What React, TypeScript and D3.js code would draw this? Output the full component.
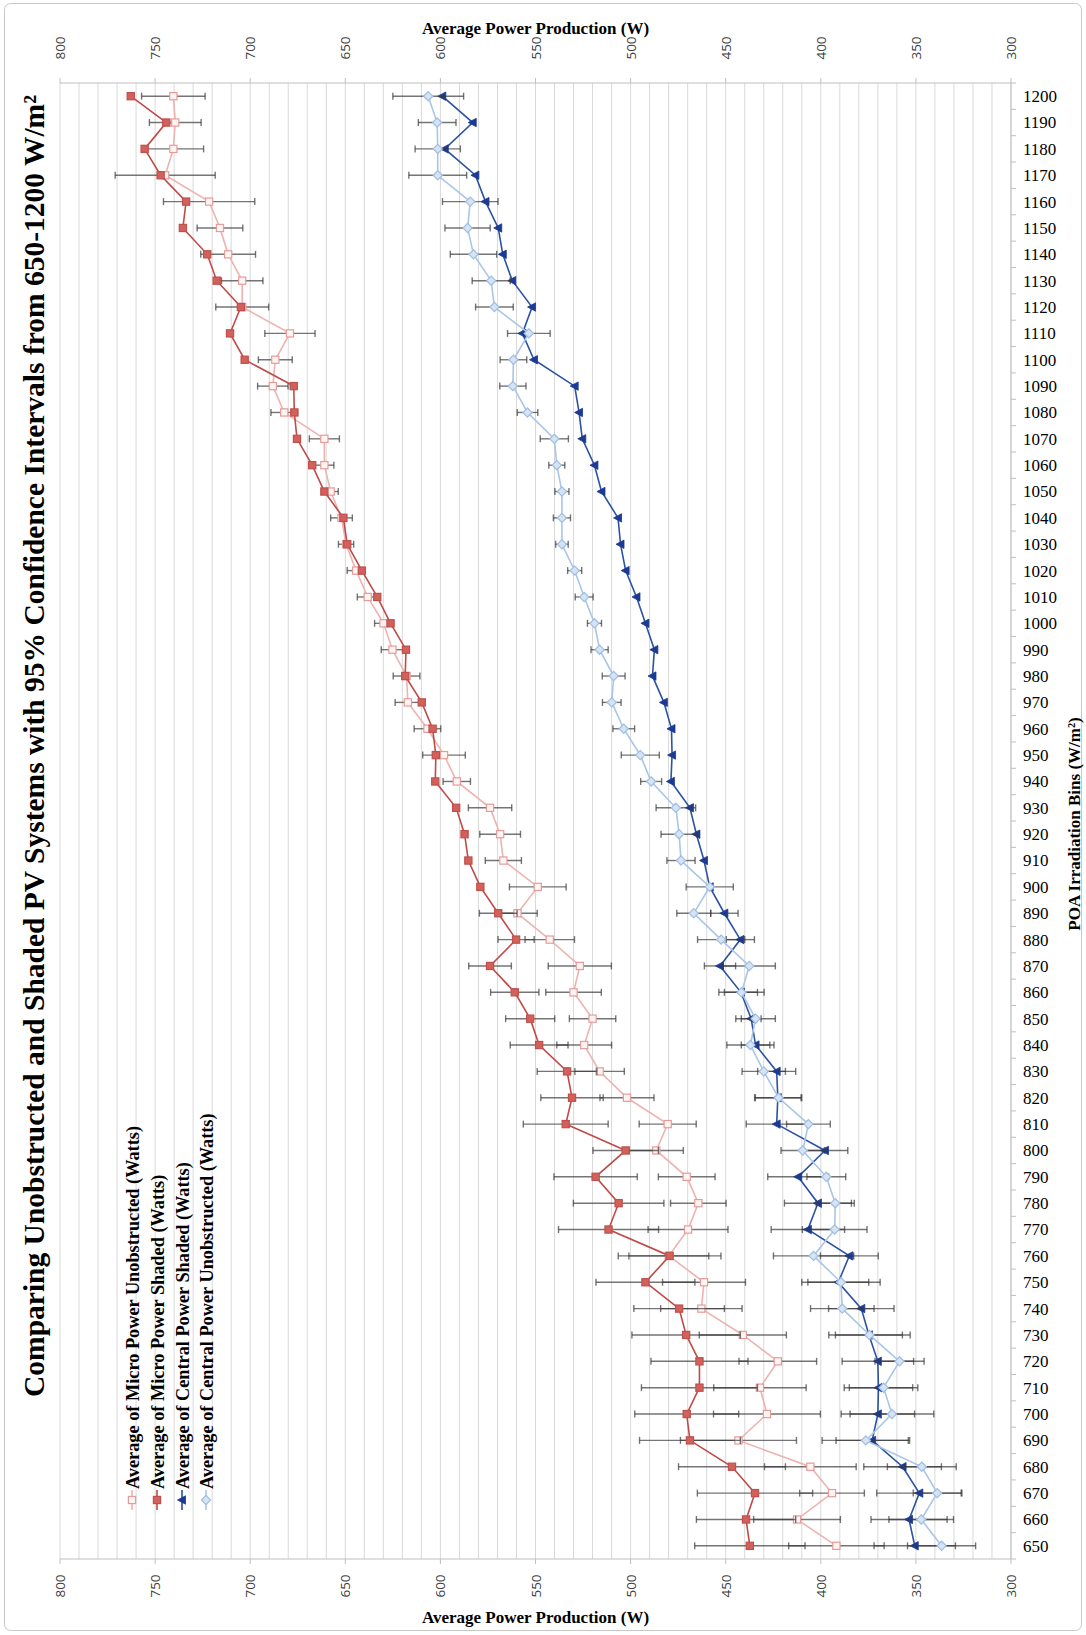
import React from 'react';
import * as d3 from 'd3';

// POA irradiation bins (W/m²)
const bins = [
  650, 660, 670, 680, 690, 700, 710, 720, 730, 740, 750, 760, 770, 780, 790, 800,
  810, 820, 830, 840, 850, 860, 870, 880, 890, 900, 910, 920, 930, 940, 950, 960,
  970, 980, 990, 1000, 1010, 1020, 1030, 1040, 1050, 1060, 1070, 1080, 1090, 1100,
  1110, 1120, 1130, 1140, 1150, 1160, 1170, 1180, 1190, 1200,
];

// Average of Micro Power Unobstructed (Watts)
const microUnobstructed = [
  391.8, 412.5, 394.1, 405.5, 443.3, 428.3, 432.0, 422.6, 441.0, 462.8, 461.4, 479.9,
  469.8, 464.4, 470.5, 486.5, 480.5, 501.9, 516.3, 524.4, 520.0, 530.0, 526.7, 542.5,
  559.5, 548.8, 566.9, 568.6, 573.9, 591.4, 598.1, 606.8, 617.1, 617.8, 625.2, 629.9,
  638.2, 644.3, 649.6, 652.0, 657.7, 661.0, 661.0, 682.1, 688.1, 686.8, 679.1, 704.2,
  704.2, 711.6, 715.9, 721.6, 744.7, 740.4, 739.4, 740.4,
];
const microUnobstructedCI = [
  25.1, 22.8, 17.0, 24.1, 30.5, 28.1, 24.3, 20.4, 22.9, 21.4, 21.8, 21.0, 21.0, 14.6,
  14.9, 14.2, 15.0, 14.2, 13.0, 14.4, 12.2, 14.6, 16.6, 13.0, 10.4, 14.9, 9.5, 10.7,
  11.4, 7.2, 11.2, 7.0, 6.7, 7.0, 5.9, 4.7, 5.5, 4.7, 4.0, 5.7, 4.0, 5.0, 7.9, 7.0, 8.0,
  8.9, 13.2, 13.9, 10.9, 14.4, 12.0, 24.0, 26.3, 15.9, 13.6, 16.7,
];

// Average of Micro Power Shaded (Watts)
const microShaded = [
  437.3, 439.3, 434.6, 446.7, 468.8, 470.5, 463.8, 463.8, 470.8, 474.5, 492.2, 479.5,
  511.6, 506.3, 518.4, 502.6, 534.1, 530.8, 533.4, 548.1, 552.8, 560.9, 573.9, 560.2,
  569.6, 579.0, 585.3, 587.3, 591.7, 602.7, 602.4, 604.1, 609.8, 618.5, 618.1, 626.2,
  633.2, 641.3, 649.0, 651.0, 661.0, 667.4, 675.4, 676.8, 677.1, 702.9, 710.6, 704.9,
  717.6, 722.6, 735.4, 733.7, 747.1, 755.5, 744.1, 762.8,
];
const microShadedCI = [
  29.0, 26.1, 30.3, 28.1, 26.5, 27.3, 30.5, 25.5, 28.5, 23.8, 26.0, 27.0, 26.3, 23.8,
  21.9, 17.2, 22.3, 16.4, 15.7, 15.2, 12.9, 12.7, 11.2, 9.5, 9.9, 0, 0, 0, 0, 0, 0, 0,
  0, 0, 0, 0, 0, 0, 0, 0, 0, 0, 0, 0, 0, 0, 0, 0, 0, 0, 0, 0, 0, 0, 0, 0,
];

// Average of Central Power Shaded (Watts)
const centralShaded = [
  350.6, 353.6, 348.2, 357.0, 373.0, 370.0, 369.7, 370.0, 374.7, 378.7, 390.8, 385.0,
  406.8, 401.5, 411.9, 397.8, 423.2, 422.6, 423.2, 434.3, 436.6, 442.0, 453.0, 442.3,
  450.7, 458.4, 461.4, 465.4, 468.8, 478.8, 478.2, 478.5, 482.5, 488.5, 487.5, 492.2,
  496.9, 502.6, 505.3, 506.6, 515.3, 519.0, 525.4, 527.1, 529.4, 550.8, 556.9, 551.8,
  562.2, 567.2, 569.6, 576.3, 581.6, 597.7, 583.0, 599.0,
];
const centralShadedCI = [
  21.4, 20.0, 22.4, 20.4, 19.0, 19.3, 18.0, 18.8, 17.6, 17.2, 16.0, 15.2, 19.3, 17.6,
  16.0, 12.0, 16.0, 12.2, 10.0, 7.5, 5.2, 8.7, 8.2, 7.4, 7.2, 0, 0, 0, 0, 0, 0, 0, 0,
  0, 0, 0, 0, 0, 0, 0, 0, 0, 0, 0, 0, 0, 0, 0, 0, 0, 0, 0, 0, 0, 0, 0,
];

// Average of Central Power Unobstructed (Watts)
const centralUnobstructed = [
  336.5, 347.2, 338.8, 346.9, 376.3, 362.6, 367.0, 358.6, 374.4, 388.7, 389.4, 403.8,
  392.7, 392.4, 397.1, 409.5, 406.5, 422.2, 430.0, 437.0, 434.3, 441.7, 437.6, 452.4,
  466.8, 458.4, 473.5, 474.5, 476.2, 489.2, 494.9, 503.6, 509.9, 508.9, 516.3, 519.0,
  524.4, 529.4, 536.1, 536.1, 536.1, 538.8, 540.1, 554.2, 561.9, 561.6, 553.5, 571.6,
  573.3, 582.6, 585.7, 584.3, 601.4, 601.4, 601.7, 606.4,
];
const centralUnobstructedCI = [
  17.9, 17.0, 12.6, 18.1, 23.0, 22.0, 18.0, 12.9, 21.4, 16.7, 20.6, 21.1, 17.0, 10.0,
  10.2, 11.4, 11.5, 12.2, 11.4, 12.4, 10.4, 11.9, 13.7, 12.4, 8.9, 12.4, 7.4, 9.5, 10.4,
  5.5, 10.0, 5.7, 4.9, 6.0, 4.5, 3.7, 4.7, 3.7, 3.3, 4.5, 3.7, 4.2, 7.4, 5.4, 6.9, 7.0,
  11.2, 9.9, 10.0, 12.2, 11.9, 14.6, 15.2, 11.9, 9.9, 18.6,
];

const powerTicks = [800, 750, 700, 650, 600, 550, 500, 450, 400, 350, 300];

type Marker = 'openSquare' | 'square' | 'triangle' | 'diamond';
interface Series {
  name: string;
  values: number[];
  ci: number[];
  line: string;
  marker: Marker;
  fill: string;
  stroke: string;
}

const series: Series[] = [
  { name: 'Average of Micro Power Unobstructed (Watts)', values: microUnobstructed, ci: microUnobstructedCI, line: '#EDB3B1', marker: 'openSquare', fill: '#FFF4F4', stroke: '#E59C99' },
  { name: 'Average of Micro Power Shaded (Watts)', values: microShaded, ci: microShadedCI, line: '#BE4B47', marker: 'square', fill: '#D2605B', stroke: '#C0504D' },
  { name: 'Average of Central Power Shaded (Watts)', values: centralShaded, ci: centralShadedCI, line: '#2C52A2', marker: 'triangle', fill: '#1C3A92', stroke: '#1C3A92' },
  { name: 'Average of Central Power Unobstructed (Watts)', values: centralUnobstructed, ci: centralUnobstructedCI, line: '#A9C6E8', marker: 'diamond', fill: '#D6E3F3', stroke: '#9FBEE3' },
];

const SERIF = '"Liberation Serif", "Times New Roman", serif';
const SANS = '"Open Sans", "DejaVu Sans", sans-serif';

function MarkerShape({ kind, cx, cy, fill, stroke }: { kind: Marker; cx: number; cy: number; fill: string; stroke: string }) {
  if (kind === 'openSquare' || kind === 'square') {
    return <rect x={cx - 3.6} y={cy - 3.6} width={7.2} height={7.2} fill={fill} stroke={stroke} strokeWidth={1.2} />;
  }
  if (kind === 'triangle') {
    const p = [[cx - 4.5, cy], [cx + 3.5, cy - 4.2], [cx + 3.5, cy + 4.2]];
    return <polygon points={p.map((q) => q.join(',')).join(' ')} fill={fill} stroke={stroke} strokeWidth={0.8} />;
  }
  const r = 4.6;
  const p = [[cx - r, cy], [cx, cy - r], [cx + r, cy], [cx, cy + r]];
  return <polygon points={p.map((q) => q.join(',')).join(' ')} fill={fill} stroke={stroke} strokeWidth={1.2} />;
}

export default function App() {
  const plot = { left: 60, right: 1011, top: 83, bottom: 1559 };
  const x = d3.scaleLinear().domain([800, 300]).range([plot.left, plot.right]);
  const y = d3.scaleBand<number>().domain([...bins].reverse()).range([plot.top, plot.bottom]);
  const yc = (b: number) => (y(b) as number) + y.bandwidth() / 2;
  const grid = d3.range(300, 801, 10);

  const lineGen = d3
    .line<number>()
    .x((v) => x(v))
    .y((_, i) => yc(bins[i]));

  const legendX = [132, 157, 182, 206];

  return (
    <svg
      width={1086}
      height={1635}
      style={{ position: 'absolute', left: 0, top: 0, background: '#fff' }}
      xmlns="http://www.w3.org/2000/svg"
    >
      <rect x={4.5} y={3.5} width={1077} height={1627} rx={6} fill="#fff" stroke="#C8C8C8" strokeWidth={1} />

      {/* value gridlines every 10 W */}
      {grid.map((g) => (
        <line key={g} x1={x(g)} x2={x(g)} y1={plot.top} y2={plot.bottom} stroke="#D9D9D9" strokeWidth={1} />
      ))}

      {/* value axes, top and bottom */}
      <line x1={plot.left} x2={plot.right} y1={plot.top} y2={plot.top} stroke="#BFBFBF" />
      <line x1={plot.left} x2={plot.right} y1={plot.bottom} y2={plot.bottom} stroke="#BFBFBF" />
      {powerTicks.map((t) => (
        <g key={t}>
          <line x1={x(t)} x2={x(t)} y1={plot.top - 5} y2={plot.top} stroke="#BFBFBF" />
          <line x1={x(t)} x2={x(t)} y1={plot.bottom} y2={plot.bottom + 5} stroke="#BFBFBF" />
          <text transform={`translate(${x(t) + 5},${48}) rotate(-90)`} textAnchor="middle" fontFamily={SANS} fontSize={13.5} fill="#404040">
            {t}
          </text>
          <text transform={`translate(${x(t) + 5},${1586}) rotate(-90)`} textAnchor="middle" fontFamily={SANS} fontSize={13.5} fill="#404040">
            {t}
          </text>
        </g>
      ))}
      <text x={(plot.left + plot.right) / 2} y={34} textAnchor="middle" fontFamily={SERIF} fontWeight="bold" fontSize={17} fill="#000">
        Average Power Production (W)
      </text>
      <text x={(plot.left + plot.right) / 2} y={1623} textAnchor="middle" fontFamily={SERIF} fontWeight="bold" fontSize={17} fill="#000">
        Average Power Production (W)
      </text>

      {/* category axis on the right */}
      <line x1={plot.right} x2={plot.right} y1={plot.top} y2={plot.bottom} stroke="#BFBFBF" />
      {[...bins, 1210].map((b) => {
        const yy = b === 1210 ? plot.top : (y(b) as number) + y.bandwidth();
        return <line key={`t${b}`} x1={plot.right} x2={plot.right + 5} y1={yy} y2={yy} stroke="#BFBFBF" />;
      })}
      {bins.map((b) => (
        <text key={`l${b}`} x={1023} y={yc(b)} dy="0.35em" fontFamily={SERIF} fontSize={17} fill="#000">
          {b}
        </text>
      ))}
      <text transform={`translate(${1080},${824}) rotate(-90)`} textAnchor="middle" fontFamily={SERIF} fontWeight="bold" fontSize={17} fill="#000">
        POA Irradiation Bins (W/m²)
      </text>

      {/* chart title */}
      <text transform={`translate(${44},${746}) rotate(-90)`} textAnchor="middle" fontFamily={SERIF} fontWeight="bold" fontSize={29.5} fill="#000">
        Comparing Unobstructed and Shaded PV Systems with 95% Confidence Intervals from 650-1200 W/m²
      </text>

      {/* series: line, confidence intervals, markers */}
      {series.map((s) => (
        <g key={s.name}>
          <path d={lineGen(s.values) || ''} fill="none" stroke={s.line} strokeWidth={1.6} />
          {s.values.map((v, i) =>
            s.ci[i] > 0 ? (
              <g key={`e${i}`} stroke="#3A3A3A" strokeOpacity={0.7} strokeWidth={1.4}>
                <line x1={x(v - s.ci[i])} x2={x(v + s.ci[i])} y1={yc(bins[i])} y2={yc(bins[i])} />
                <line x1={x(v - s.ci[i])} x2={x(v - s.ci[i])} y1={yc(bins[i]) - 3.5} y2={yc(bins[i]) + 3.5} />
                <line x1={x(v + s.ci[i])} x2={x(v + s.ci[i])} y1={yc(bins[i]) - 3.5} y2={yc(bins[i]) + 3.5} />
              </g>
            ) : null
          )}
          {s.values.map((v, i) => (
            <MarkerShape key={`m${i}`} kind={s.marker} cx={x(v)} cy={yc(bins[i])} fill={s.fill} stroke={s.stroke} />
          ))}
        </g>
      ))}

      {/* legend */}
      {series.map((s, i) => (
        <g key={`lg${i}`}>
          <line x1={legendX[i]} x2={legendX[i]} y1={1490} y2={1510} stroke={s.line} strokeWidth={1.6} />
          <MarkerShape kind={s.marker} cx={legendX[i]} cy={1500} fill={s.fill} stroke={s.stroke} />
          <text transform={`translate(${legendX[i] + 6.5},${1489}) rotate(-90)`} fontFamily={SERIF} fontWeight="bold" fontSize={18.3} fill="#000">
            {s.name}
          </text>
        </g>
      ))}
    </svg>
  );
}
